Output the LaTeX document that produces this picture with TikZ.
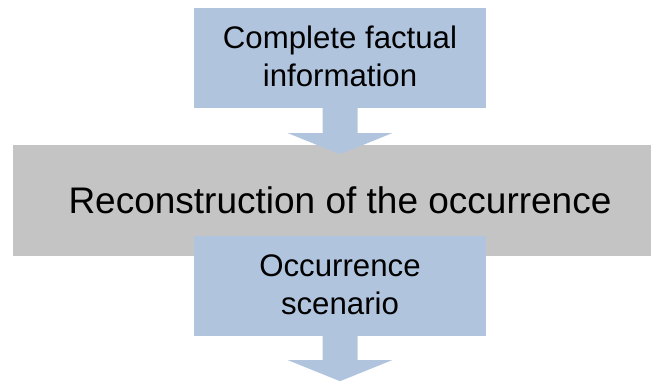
\documentclass[tikz,border=0pt]{standalone}
\usepackage{fontspec}
\setmainfont{Liberation Sans}
\usetikzlibrary{calc}
\definecolor{boxblue}{RGB}{176,196,222}
\definecolor{bandgray}{RGB}{196,196,196}
\begin{document}
\begin{tikzpicture}[x=1pt,y=-1pt,
  stagebox/.style={fill=boxblue,draw=none,minimum width=292pt,minimum height=100pt,
    inner sep=0pt,align=center,font=\fontsize{31.2}{38}\selectfont},
  band/.style={fill=bandgray,draw=none,minimum width=654pt,minimum height=111pt,
    inner sep=0pt,font=\fontsize{37}{44}\selectfont},
  flowarrow/.style={fill=boxblue,draw=none}]
\useasboundingbox (0,0) rectangle (651,381);
% wide grey band for the reconstruction step
\node[band] (recon) at (340,200.5) {Reconstruction of the occurrence};
% input box
\node[stagebox] (facts) at (340,58) {};
\node[align=center,inner sep=0pt,font=\fontsize{31.2}{38}\selectfont] (factstext)
  at ($(facts.center)+(0,-1.5)$) {Complete factual\\information};
% output box
\node[stagebox] (scen) at (340,286) {};
\node[align=center,inner sep=0pt,font=\fontsize{31.2}{38}\selectfont] (scentext)
  at ($(scen.center)+(0,-1.5)$) {Occurrence\\scenario};
% block arrow from the input box into the band
\fill[flowarrow] ($(facts.south)+(-17.5,0)$) -- ($(facts.south)+(17.5,0)$)
  -- ($(facts.south)+(17.5,25)$) -- ($(facts.south)+(52,25)$)
  -- ($(facts.south)+(0,46)$) -- ($(facts.south)+(-52,25)$)
  -- ($(facts.south)+(-17.5,25)$) -- cycle;
% block arrow leaving the output box
\coordinate (out) at ($(scen.south)+(0,45)$);
\fill[flowarrow] ($(scen.south)+(-17.5,0)$) -- ($(scen.south)+(17.5,0)$)
  -- ($(scen.south)+(17.5,24)$) -- ($(scen.south)+(52,24)$)
  -- (out) -- ($(scen.south)+(-52,24)$)
  -- ($(scen.south)+(-17.5,24)$) -- cycle;
\end{tikzpicture}
\end{document}
